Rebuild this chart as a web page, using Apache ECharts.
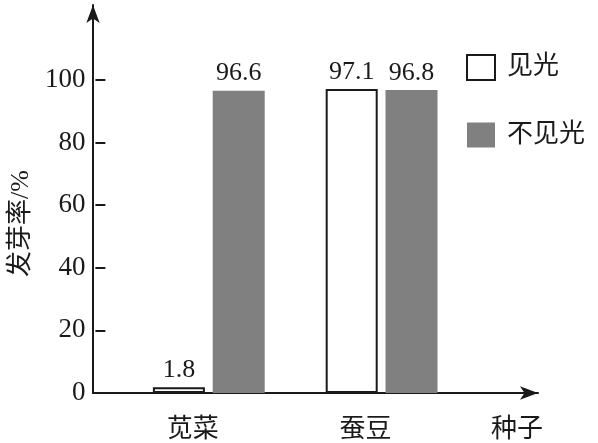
<!DOCTYPE html>
<html>
<head>
<meta charset="utf-8">
<script src="https://cdn.jsdelivr.net/npm/echarts@6/dist/echarts.min.js"></script>
<style>
html,body{margin:0;padding:0;background:#fff;}
#chart{width:598px;height:443px;}
</style>
</head>
<body>
<div id="chart"></div>
<script>
const categories = ['苋菜', '蚕豆'];
const seriesNames = ['见光', '不见光'];
const lightValues = [1.8, 97.1];
const darkValues = [96.6, 96.8];
const yMin = 0, yMax = 100, yInterval = 20;
const yAxisName = '发芽率/%';
const xAxisName = '种子';

const FONT = "'Liberation Serif', 'Noto Sans CJK SC', serif";
const INK = '#1a1a1a';

const chart = echarts.init(document.getElementById('chart'));
chart.setOption({
  backgroundColor: '#fff',
  animation: false,
  textStyle: { fontFamily: FONT, color: INK },
  legend: {
    data: seriesNames,
    orient: 'vertical',
    left: 466, top: 54, padding: 0,
    itemWidth: 28, itemHeight: 25, itemGap: 41,
    icon: 'rect',
    textStyle: { fontFamily: FONT, fontSize: 26, color: INK, padding: [0, 0, 0, 7] }
  },
  grid: [
    { left: 93, right: 60, top: 5, bottom: 50 },
    { left: 120, right: 130, top: 80, bottom: 50 }
  ],
  xAxis: [
    {
      gridIndex: 0, type: 'value', min: 0, max: 1,
      axisLine: { show: true, symbol: ['none', 'arrow'], symbolSize: [10, 18], lineStyle: { color: INK, width: 2 } },
      axisTick: { show: false }, axisLabel: { show: false }, splitLine: { show: false },
      name: xAxisName, nameLocation: 'end', nameGap: -21,
      nameTextStyle: { fontFamily: FONT, fontSize: 26, color: INK, align: 'center', verticalAlign: 'top', padding: [24, 0, 0, 0] }
    },
    {
      gridIndex: 1, type: 'category', data: categories,
      axisLine: { show: false }, axisTick: { show: false },
      axisLabel: { fontFamily: FONT, fontSize: 26, color: INK, margin: 24, padding: [0, 32, 0, 0] }
    }
  ],
  yAxis: [
    {
      gridIndex: 0, type: 'value', min: 0, max: 1,
      axisLine: { show: true, symbol: ['none', 'arrow'], symbolSize: [10, 18], lineStyle: { color: INK, width: 2 } },
      axisTick: { show: false }, axisLabel: { show: false }, splitLine: { show: false }
    },
    {
      gridIndex: 1, type: 'value', min: yMin, max: yMax, interval: yInterval,
      position: 'left', offset: 27,
      axisLine: { show: false },
      axisTick: { show: true, inside: true, length: 10, lineStyle: { color: INK, width: 2 } },
      axisLabel: { fontFamily: FONT, fontSize: 27, color: INK, margin: 10, padding: [8, 0, 0, 0] },
      splitLine: { show: false },
      name: yAxisName, nameLocation: 'middle', nameGap: 57, nameRotate: 90,
      nameTextStyle: { fontFamily: FONT, fontSize: 26, color: INK, padding: [0, 0, 0, 26] }
    }
  ],
  series: [
    {
      name: seriesNames[0], type: 'bar', xAxisIndex: 1, yAxisIndex: 1,
      data: lightValues, barWidth: 52, barGap: '15%',
      itemStyle: { color: '#ffffff', borderColor: INK, borderWidth: 2 },
      label: { show: true, position: 'top', distance: 4, fontFamily: FONT, fontSize: 26, color: INK }
    },
    {
      name: seriesNames[1], type: 'bar', xAxisIndex: 1, yAxisIndex: 1,
      data: darkValues, barWidth: 52, barGap: '15%',
      itemStyle: { color: '#808080' },
      label: { show: true, position: 'top', distance: 4, fontFamily: FONT, fontSize: 26, color: INK }
    }
  ]
});
</script>
</body>
</html>
